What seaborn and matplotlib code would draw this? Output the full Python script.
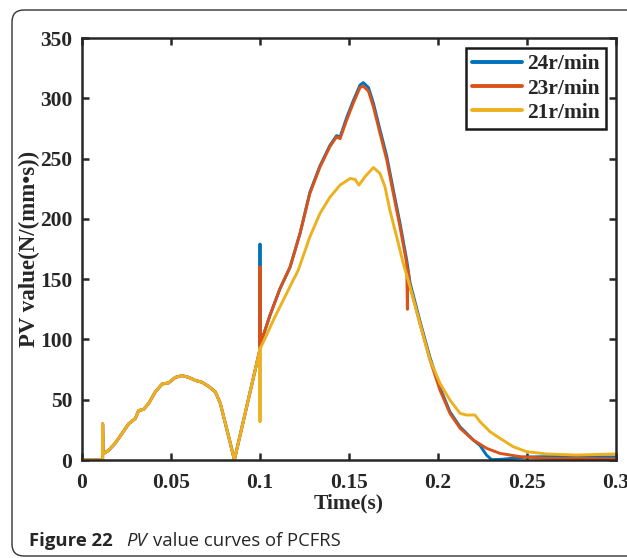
import numpy as np
import pandas as pd
import matplotlib
matplotlib.use("Agg")
import matplotlib.pyplot as plt
import seaborn as sns
from matplotlib.patches import FancyBboxPatch
from matplotlib.transforms import IdentityTransform

# ---------------- data ----------------
t_early = [0, 0.0116, 0.0116, 0.0118, 0.015, 0.0187, 0.0225, 0.0262, 0.030, 0.0318,
           0.0346, 0.0375, 0.0412, 0.045, 0.0487, 0.0524, 0.0562, 0.060, 0.0637,
           0.0674, 0.0712, 0.0749, 0.0777, 0.0805, 0.0833, 0.0856, 0.1]
v_early = [0, 0, 30, 5, 8, 14, 22, 30, 34.5, 41, 42, 47, 56.5, 63, 64, 68.5, 70,
           68.5, 66, 64.5, 61, 56.5, 47, 30.5, 14, 0, 92]

t_24 = [0.1, 0.1, 0.1056, 0.1112, 0.1169, 0.1225, 0.128, 0.1337, 0.1393, 0.143,
        0.145, 0.1487, 0.1524, 0.1562, 0.158, 0.1609, 0.1637, 0.1674, 0.1712,
        0.1749, 0.1787, 0.1824, 0.1843, 0.1899, 0.1955, 0.2011, 0.2067, 0.2124,
        0.2198, 0.2236, 0.2273, 0.2301, 0.235, 0.25, 0.27, 0.3]
v_24 = [179, 95, 120, 142, 160, 188, 222, 244, 261, 269, 268, 284, 298, 311, 313,
        309, 296, 274, 252, 224, 196, 166, 147, 115, 85, 60, 40, 27.5, 16.6, 12,
        4, 0.3, 0.5, 2.5, 3, 2.5]

t_23 = [0.1, 0.1, 0.1056, 0.1112, 0.1169, 0.1225, 0.128, 0.1337, 0.1393, 0.143,
        0.145, 0.1487, 0.1524, 0.1562, 0.158, 0.1609, 0.1637, 0.1674, 0.1712,
        0.1749, 0.1787, 0.1824, 0.1828, 0.1830, 0.1843, 0.1899, 0.1955, 0.2011,
        0.2067, 0.2124, 0.2198, 0.2273, 0.2348, 0.246, 0.261, 0.28, 0.3]
v_23 = [160, 95, 120, 142, 160, 188, 221, 243, 260, 268, 266.5, 282, 296, 309, 310,
        306, 293, 271, 249, 221, 193, 163, 125, 158, 144, 113, 83, 58, 38.7, 26.3,
        16.6, 9.7, 5.5, 2.8, 1.4, 1.2, 1.0]

t_21 = [0.1, 0.1, 0.1038, 0.1075, 0.1122, 0.1169, 0.1215, 0.128, 0.1337, 0.1393,
        0.145, 0.1506, 0.1534, 0.1556, 0.159, 0.1637, 0.1674, 0.1702, 0.173,
        0.1768, 0.1805, 0.1843, 0.1899, 0.1955, 0.2011, 0.2067, 0.2124, 0.216,
        0.2208, 0.2236, 0.2292, 0.2348, 0.2423, 0.2498, 0.261, 0.2779, 0.3]
v_21 = [32, 92, 104, 116, 130, 144, 157.5, 185, 204.5, 218, 228, 233.5, 232.7, 228,
        235, 242.6, 237.7, 226.6, 207, 185, 163, 143.7, 113, 83, 63.6, 49.7, 38.7,
        37.3, 37.3, 31.8, 23.5, 18, 11, 6.9, 5, 4.1, 5]

series = ["24r/min", "23r/min", "21r/min"]
colors = ["#0072BD", "#D95319", "#EDB120"]

x_ticks = [0, 0.05, 0.1, 0.15, 0.2, 0.25, 0.3]
x_tick_labels = ["0", "0.05", "0.1", "0.15", "0.2", "0.25", "0.3"]
y_ticks = [0, 50, 100, 150, 200, 250, 300, 350]

# ---------------- build long-form table ----------------
rows = []
for name, tt, vv in zip(series, [t_24, t_23, t_21], [v_24, v_23, v_21]):
    full_t = t_early + tt
    full_v = v_early + vv
    for i, (a, b) in enumerate(zip(full_t, full_v)):
        rows.append({"series": name, "t": a, "v": b, "order": i})
df = pd.DataFrame(rows)

# ---------------- figure ----------------
sns.set_style("ticks")
plt.rcParams["font.family"] = ["Liberation Serif", "DejaVu Serif"]

fig = plt.figure(figsize=(6.27, 5.58), dpi=100)
ax = fig.add_axes([82 / 627, (558 - 460) / 558, (616 - 82) / 627, (460 - 38) / 558])

sns.lineplot(data=df, x="t", y="v", hue="series", hue_order=series,
             palette=colors, estimator=None, sort=False, errorbar=None,
             linewidth=2.1, ax=ax)

ax.set_xlim(0, 0.3)
ax.set_ylim(0, 350)
ax.set_xticks(x_ticks)
ax.set_xticklabels(x_tick_labels)
ax.set_yticks(y_ticks)
for lab in ax.get_xticklabels() + ax.get_yticklabels():
    lab.set_fontweight("bold")
    lab.set_fontsize(15.5)
ax.tick_params(direction="in", length=5, width=1.8, top=True, right=True,
               labeltop=False, labelright=False, color="#262626")
ax.tick_params(axis="x", pad=9)
ax.tick_params(axis="y", pad=7)
for sp in ax.spines.values():
    sp.set_visible(True)
    sp.set_linewidth(1.8)
    sp.set_color("#262626")

ax.set_xlabel("Time(s)", fontsize=15.5, fontweight="bold", labelpad=1)
ax.set_ylabel("PV value(N/(mm\u2022s))", fontsize=16.5, fontweight="bold", labelpad=0)

leg = ax.legend(loc="upper right", frameon=True, fancybox=False,
                handlelength=2.3, handletextpad=0.25, borderpad=0.3,
                labelspacing=0.2, borderaxespad=0.45,
                prop={"weight": "bold", "size": 15.5})
leg.get_frame().set_edgecolor("#1a1a1a")
leg.get_frame().set_linewidth(1.8)
leg.get_frame().set_alpha(1)
for line in leg.get_lines():
    line.set_linewidth(2.8)

# ---------------- caption frame & caption ----------------
box = FancyBboxPatch((12, 2), 660, 546, boxstyle="round,pad=0,rounding_size=12",
                     transform=IdentityTransform(), fill=False,
                     edgecolor="#333333", linewidth=1.0, clip_on=False)
fig.patches.append(box)

cap_font = ["Open Sans", "DejaVu Sans"]
fig.text(29, 12, "Figure 22", transform=IdentityTransform(), family=cap_font,
         fontweight="bold", fontsize=13.3, va="baseline", ha="left")
fig.text(126, 12, "PV", transform=IdentityTransform(), family=cap_font,
         fontstyle="italic", fontsize=13.3, va="baseline", ha="left")
fig.text(153, 12, "value curves of PCFRS", transform=IdentityTransform(),
         family=cap_font, fontsize=13.3, va="baseline", ha="left")

fig.savefig("out.png", dpi=100)
